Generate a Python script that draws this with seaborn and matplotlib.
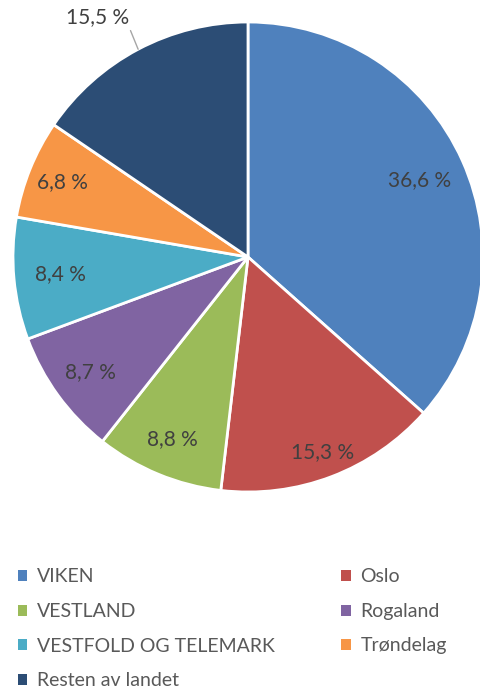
import numpy as np
import matplotlib
matplotlib.use("Agg")
import matplotlib.pyplot as plt
import seaborn as sns

regions = ["VIKEN", "Oslo", "VESTLAND", "Rogaland", "VESTFOLD OG TELEMARK", "Trøndelag", "Resten av landet"]
shares = [36.6, 15.3, 8.8, 8.7, 8.4, 6.8, 15.5]
colors = ["#4F81BD", "#C0504D", "#9BBB59", "#8064A2", "#4BACC6", "#F79646", "#2C4D75"]

sns.set_theme(style="white")
plt.rcParams["font.family"] = ["Lato", "DejaVu Sans"]
palette = sns.color_palette(colors)

fig = plt.figure(figsize=(4.81, 6.91), dpi=100)
W, H = 481, 691
cx, cy, R = 248, 257, 235
ax = fig.add_axes([(cx - R) / W, (H - cy - R) / H, 2 * R / W, 2 * R / H])

labels_txt = [f"{v:.1f} %".replace(".", ",") for v in shares]
wedges, _ = ax.pie(shares, colors=palette, startangle=90, counterclock=False,
                   wedgeprops=dict(edgecolor="white", linewidth=2))
ax.set_xlim(-1, 1)
ax.set_ylim(-1, 1)
ax.set_aspect("equal")

dist = [0.80, 0.89, 0.84, 0.83, 0.80, 0.85]
for w, txt, d in zip(wedges[:-1], labels_txt[:-1], dist):
    ang = np.deg2rad((w.theta1 + w.theta2) / 2)
    ax.text(d * np.cos(ang), d * np.sin(ang), txt, ha="center", va="center",
            fontsize=15, color="#404040")

# last wedge label outside with leader line
w = wedges[-1]
ang = np.deg2rad((w.theta1 + w.theta2) / 2)
ax.annotate(labels_txt[-1], xy=(np.cos(ang), np.sin(ang)), xytext=(-0.64, 1.02),
            ha="center", va="center", fontsize=15, color="#404040",
            arrowprops=dict(arrowstyle="-", color="#A6A6A6", lw=1, relpos=(1, 0),
                            shrinkA=0, shrinkB=0), annotation_clip=False)

order = [0, 2, 4, 6, 1, 3, 5]
leg = fig.legend([wedges[i] for i in order], [regions[i] for i in order],
                 loc="upper left", bbox_to_anchor=(0.0, 1 - 551 / H), ncol=2,
                 frameon=False, fontsize=14, handlelength=0.5, handleheight=0.5,
                 handletextpad=0.5, columnspacing=3.4, labelspacing=0.9,
                 labelcolor="#595959")
for h in leg.legend_handles:
    h.set_edgecolor("none")

fig.savefig("out.png", dpi=100)
